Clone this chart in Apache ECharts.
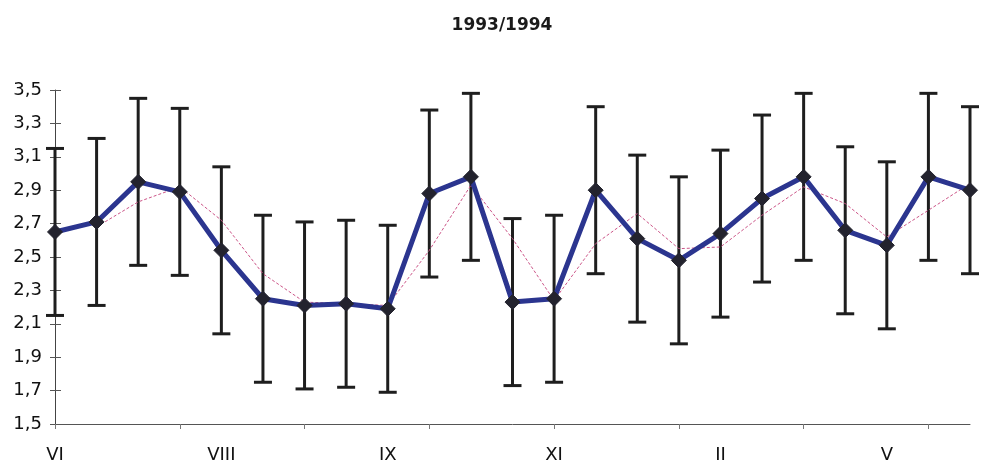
<!DOCTYPE html>
<html>
<head>
<meta charset="utf-8">
<script src="https://cdn.jsdelivr.net/npm/echarts@6/dist/echarts.min.js"></script>
<style>
html,body{margin:0;padding:0;background:#fff;}
#chart{width:984px;height:472px;}
</style>
</head>
<body>
<div id="chart"></div>
<script>
// Categories (23 periods); only some carry a visible label
var categories = ['VI','','','','VIII','','','','IX','','','','XI','','','','II','','','','V','',''];
// Mean values (thick blue line)
var values = [2.65,2.71,2.95,2.89,2.54,2.25,2.21,2.22,2.19,2.88,2.98,2.23,2.25,2.90,2.61,2.48,2.64,2.85,2.98,2.66,2.57,2.98,2.90];
// Half-length of the error bars
var errors = [0.5,0.5,0.5,0.5,0.5,0.5,0.5,0.5,0.5,0.5,0.5,0.5,0.5,0.5,0.5,0.5,0.5,0.5,0.5,0.5,0.5,0.5,0.5];
// Thin pink trend line (2-period moving average as drawn); first point has none
var trend = [null,2.68,2.83,2.92,2.72,2.40,2.23,2.22,2.21,2.54,2.93,2.61,2.24,2.58,2.76,2.55,2.56,2.75,2.92,2.82,2.62,2.78,2.94];
// Y tick labels
var yMin = 1.5, yMax = 3.5, yStep = 0.2;
var title = '1993/1994';

var errData = values.map(function(v, i){ return [i, v - errors[i], v + errors[i]]; });

var chart = echarts.init(document.getElementById('chart'), null, {renderer:'canvas'});
var fontFam = '"DejaVu Sans", "Liberation Sans", Arial, sans-serif';
chart.setOption({
  animation: false,
  backgroundColor: '#ffffff',
  title: {
    text: title, left: 497, top: 12, textAlign: 'center',
    textStyle: {fontFamily: fontFam, fontSize: 17, fontWeight: 'bold', color: '#1a1a1a'}
  },
  grid: {left: 55, right: 14, top: 90, bottom: 48, containLabel: false},
  xAxis: {
    type: 'category', data: categories, boundaryGap: false,
    axisLine: {lineStyle: {color: '#555', width: 1}},
    axisTick: {show: true, interval: 2, length: 5, inside: false, lineStyle: {color: '#777'}},
    axisLabel: {interval: 3, color: '#111', fontFamily: fontFam, fontSize: 18, margin: 22},
    splitLine: {show: false}
  },
  yAxis: [{
    type: 'value', min: yMin, max: yMax, interval: yStep,
    axisLine: {show: true, lineStyle: {color: '#444', width: 1}},
    axisTick: {show: true, length: 5, lineStyle: {color: '#555'}},
    axisLabel: {color: '#111', fontFamily: fontFam, fontSize: 18, margin: 13,
      formatter: function(v){ return v.toFixed(1).replace('.', ','); }},
    splitLine: {show: false}
  },{
    type: 'value', min: yMin, max: yMax, interval: yStep, position: 'left',
    axisLine: {show: false},
    axisTick: {show: true, inside: true, length: 6, lineStyle: {color: '#555'}},
    axisLabel: {show: false},
    splitLine: {show: false}
  }],
  series: [{
    type: 'custom',
    z: 1,
    data: errData,
    encode: {x: 0, y: [1, 2]},
    renderItem: function(params, api){
      var x = api.value(0);
      var lo = api.coord([x, api.value(1)]);
      var hi = api.coord([x, api.value(2)]);
      var w = 9;
      var st = {stroke: '#1e1e1e', lineWidth: 3};
      return {type: 'group', children: [
        {type: 'line', shape: {x1: hi[0], y1: hi[1], x2: lo[0], y2: lo[1]}, style: st},
        {type: 'line', shape: {x1: hi[0]-w, y1: hi[1], x2: hi[0]+w, y2: hi[1]}, style: st},
        {type: 'line', shape: {x1: lo[0]-w, y1: lo[1], x2: lo[0]+w, y2: lo[1]}, style: st}
      ]};
    }
  },{
    type: 'line', data: trend, z: 2, symbol: 'none', connectNulls: false,
    lineStyle: {color: '#cc5588', width: 1, type: [3, 2]}
  },{
    type: 'line', data: values, z: 3,
    symbol: 'diamond', symbolSize: 15,
    itemStyle: {color: '#23232e', borderColor: '#23232e'},
    lineStyle: {color: '#2b358f', width: 5}
  }]
});
</script>
</body>
</html>
